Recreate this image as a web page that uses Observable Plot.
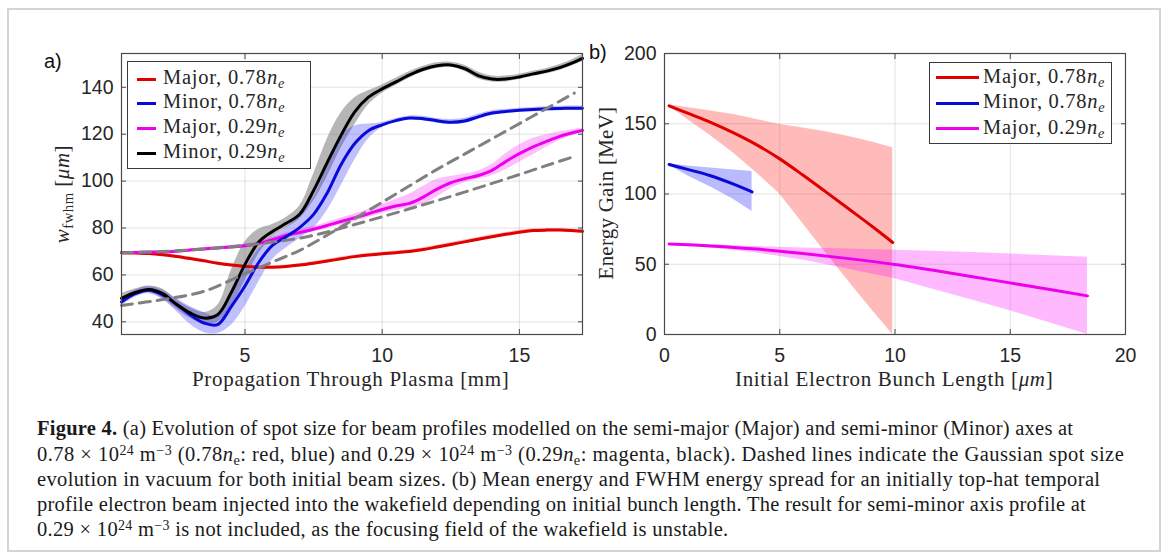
<!DOCTYPE html>
<html>
<head>
<meta charset="utf-8">
<script src="https://cdn.jsdelivr.net/npm/d3@7"></script>
<script src="https://cdn.jsdelivr.net/npm/@observablehq/plot@0.6"></script>
<style>
html,body{margin:0;padding:0;background:#fff;}
#page{position:relative;width:1170px;height:558px;overflow:hidden;background:#fff;}
#border{position:absolute;left:7px;top:8px;width:1154px;height:544px;border:2px solid #d4d4d4;box-sizing:border-box;}
.abs{position:absolute;white-space:nowrap;line-height:1.15;}
.serif{font-family:"Liberation Serif","Times New Roman",serif;font-size:21px;color:#262626;}
.leg{font-family:"Liberation Serif","Times New Roman",serif;font-size:20.5px;color:#262626;}
.panel{font-family:"Liberation Sans",Arial,sans-serif;font-size:20px;color:#111;}
.cap{font-family:"Liberation Serif","Times New Roman",serif;font-size:20.5px;color:#1a1a1a;}
.legend{position:absolute;background:#fff;border:1.3px solid #3a3a3a;box-sizing:border-box;}
.swatch{position:absolute;height:3px;margin-top:-1.5px;}
sub{font-size:70%;vertical-align:-0.25em;line-height:0;}
sup{font-size:68%;vertical-align:0.45em;line-height:0;}
svg{position:absolute;top:0;}
</style>
</head>
<body>
<div id="page"><div id="border"></div></div>
<script>
// ---------- Panel (a): spot size vs propagation ----------
const xA = [0.5,1,1.5,2,2.5,3,3.5,4,4.5,5,5.5,6,6.5,7,7.5,8,8.5,9,9.5,10,10.5,11,11.5,12,12.5,13,13.5,14,14.5,15,15.5,16,16.5,17,17.3];

const redMean = [69.5,69.3,69.1,68.6,67.9,67,66,65,64.2,63.6,63.3,63.3,63.6,64.2,65,65.9,66.9,67.8,68.5,69,69.5,70,70.8,71.9,73,74.1,75.2,76.3,77.3,78.2,78.9,79.1,79.1,78.8,78.6];
const redLo   = [69,68.8,68.6,68,67.3,66.4,65.4,64.4,63.6,63,62.7,62.7,63,63.5,64.3,65.2,66.2,67.1,67.8,68.3,68.8,69.3,70,71.1,72.2,73.3,74.4,75.5,76.5,77.4,78.1,78.4,78.4,78.1,77.9];
const redHi   = [70,69.8,69.6,69.2,68.5,67.6,66.6,65.6,64.8,64.2,63.9,63.9,64.2,64.9,65.7,66.6,67.6,68.5,69.2,69.7,70.2,70.7,71.6,72.7,73.8,74.9,76,77.1,78.1,79,79.7,79.8,79.8,79.5,79.3];

const blueMean = [48.5,52,53.5,51.5,47.5,43,39.5,38.8,46.5,55.3,65.3,72.6,76.3,80.3,85.8,95,107,116,121.5,124,125.8,126.9,126.6,125.7,125.1,125.6,127.4,129,129.7,130.2,130.5,130.8,131,131.1,131.1];
const blueLo   = [46.8,50.5,52,49.5,44.5,39,35.5,35,38.5,46.5,57,66.5,71.5,75.5,80,87.5,98,109,118,122.8,125,126,125.6,124.7,124.1,124.6,126.3,128,128.8,129.3,129.6,129.9,130.1,130.2,130.2];
const blueHi   = [50,53.5,55,53.5,50,46.5,44,42.5,52,62,71,76,80,85.5,93,106,119,123.5,124.3,125,126.7,127.8,127.6,126.7,126.3,126.8,128.5,130,130.6,131.1,131.4,131.7,131.9,132,132];

const magMean = [69.5,69.6,69.7,69.8,70.1,70.6,71.1,71.5,71.9,72.4,73.4,75,76.8,78.1,79.5,81.1,82.8,84.4,86.1,87.9,89.4,90.5,93.2,96.6,99.3,101,102.4,104.6,108.3,111.7,114.6,117,119.2,120.8,121.6];
const magLo   = [69,69.1,69.2,69.3,69.6,70,70.5,70.9,71.2,71.6,72.5,74,75.8,77.3,78.5,79.8,81.2,82.8,84.5,86.2,87.6,88.6,90.2,93.2,96.8,99.3,100.8,102.3,104.8,108,111.2,114.5,117.5,119.8,120.8];
const magHi   = [70,70.1,70.2,70.3,70.6,71.2,71.7,72.1,72.6,73.2,74.3,76,77.9,79.2,80.7,82.4,84.3,86,88,90,92.2,94.5,97.8,100.8,102,103,104.3,107.2,111.7,115.5,118.3,119.8,121,122,122.5];

const blackMean = [50,52.5,53.8,52,47.5,43.8,41.6,43,52.5,64.5,74,78.5,82,86,96,108,119.5,129.5,135.8,139.3,142.3,145.3,147.7,149.2,149.5,148,145,143.5,143.5,144.4,145.7,146.9,148.5,150.7,152.3];
const blackLo   = [48,51,52.5,50,45.5,41.5,39.3,39.8,46.5,57.5,69,76,80,84,91.5,102,114,124,132.5,137.5,140.8,144,146.5,148,148.5,146.8,143.5,142.3,142.3,143.3,144.6,145.8,147.3,149.5,151];
const blackHi   = [52,54,55.3,54,49.5,46,44,47,62,74,79.5,81.5,84.5,89.5,103,118,129,135.5,138.5,141,143.8,146.7,149,150.5,150.7,149.4,146.5,144.8,144.8,145.6,146.8,148,149.8,152.2,154];

// Gaussian vacuum evolution (dashed)
const xDash = [0.5,2,3.5,5,6,7,8,9,10,11,12,13,14,15,16,17];
const dashMinor = [47,49.5,53,60.5,65.5,70.5,77,84,91,98,105,111.5,118,124.5,131,137.5];
const dashMajor = [69.5,70,71,72.6,74,75.7,78.3,81.5,84.8,88.2,91.7,95.3,99,102.8,106.7,110.5];

const xTicksA = [5,10,15];
const yTicksA = [40,60,80,100,120,140];

// ---------- Panel (b): energy gain vs bunch length ----------
const xRed = [0.2,1,2,3,4,5,6,7,8,9,9.9];
const egRedMean = [162.8,157.5,151,143.5,135,125,113.5,101.5,89.3,77,65.5];
const egRedHi   = [163.6,161.5,159,156.5,153,149.5,147,144.3,141,137,133];
const egRedLo   = [162.5,153,141.5,129,115,100,79,58,37.5,17.5,0];

const xBlue = [0.2,1,2,3,3.8];
const egBlueMean = [121,117.5,113,107,101.5];
const egBlueHi   = [121.5,120,118.5,117,116];
const egBlueLo   = [120.5,113,105,96,87.5];

const xMag = [0.2,2,4,6,8,10,12,14,16,18.35];
const egMagMean = [64.5,63,60.8,57.6,54,49.8,44.8,39.4,34,27.5];
const egMagHi   = [64.8,63.8,62.6,61.6,60.8,60,59,58,56.6,55];
const egMagLo   = [64.2,61.5,58,53,46.5,39.7,30.6,21.5,12,0];

const xTicksB = [0,5,10,15,20];
const yTicksB = [0,50,100,150,200];

const seriesNames = ["Major, 0.78", "Minor, 0.78", "Major, 0.29", "Minor, 0.29"];
const C = {red:"#e00000", blue:"#0a0ad8", mag:"#ee00ee", black:"#000000", dash:"#808080"};

const tbl = (xs, m, lo, hi) => xs.map((x, i) => ({x, y: m[i], lo: lo ? lo[i] : null, hi: hi ? hi[i] : null}));

const A = {
  red: tbl(xA, redMean, redLo, redHi),
  blue: tbl(xA, blueMean, blueLo, blueHi),
  mag: tbl(xA, magMean, magLo, magHi),
  black: tbl(xA, blackMean, blackLo, blackHi),
  dMinor: tbl(xDash, dashMinor),
  dMajor: tbl(xDash, dashMajor)
};
const B = {
  red: tbl(xRed, egRedMean, egRedLo, egRedHi),
  blue: tbl(xBlue, egBlueMean, egBlueLo, egBlueHi),
  mag: tbl(xMag, egMagMean, egMagLo, egMagHi)
};

const styleCommon = {fontFamily: '"Liberation Sans", Arial, sans-serif', fontSize: "19.5px", color: "#262626", background: "transparent", overflow: "visible"};
const axes = (xt, yt) => [
  Plot.frame({stroke: "#4a4a4a", strokeWidth: 1.2}),
  Plot.axisX(xt, {anchor: "bottom", tickSize: -5, tickPadding: 19, label: null, stroke: "#4a4a4a"}),
  Plot.axisX(xt, {anchor: "top", tickSize: -5, tickFormat: () => "", label: null, stroke: "#4a4a4a"}),
  Plot.axisY(yt, {anchor: "left", tickSize: -5, tickPadding: 13, label: null, stroke: "#4a4a4a"}),
  Plot.axisY(yt, {anchor: "right", tickSize: -5, tickFormat: () => "", label: null, stroke: "#4a4a4a"})
];
const grids = (xt, yt) => [
  Plot.gridX(xt, {stroke: "#000", strokeOpacity: 0.11, strokeWidth: 1}),
  Plot.gridY(yt, {stroke: "#000", strokeOpacity: 0.11, strokeWidth: 1})
];
const band = (d, fill, op, curve) => Plot.areaY(d, {x: "x", y1: "lo", y2: "hi", fill, fillOpacity: op, curve});
const ln = (d, stroke, curve, extra = {}) => Plot.line(d, {x: "x", y: "y", stroke, strokeWidth: 3, curve, ...extra});

const leftPlot = Plot.plot({
  width: 590, height: 400,
  marginLeft: 121, marginRight: 8, marginTop: 53, marginBottom: 66,
  x: {domain: [0.5, 17.3]},
  y: {domain: [34.6, 154.4]},
  style: styleCommon,
  marks: [
    ...grids(xTicksA, yTicksA),
    band(A.black, "#6e6e6e", 0.5, "catmull-rom"),
    band(A.blue, "#3030ff", 0.3, "catmull-rom"),
    band(A.mag, "#ff00ff", 0.25, "catmull-rom"),
    band(A.red, "#ff0000", 0.25, "catmull-rom"),
    ln(A.red, C.red, "catmull-rom"),
    ln(A.mag, C.mag, "catmull-rom"),
    ln(A.blue, C.blue, "catmull-rom"),
    ln(A.black, C.black, "catmull-rom"),
    ln(A.dMinor, C.dash, "catmull-rom", {strokeDasharray: "11,7"}),
    ln(A.dMajor, C.dash, "catmull-rom", {strokeDasharray: "11,7"}),
    ...axes(xTicksA, yTicksA)
  ]
});
leftPlot.style.left = "0px";

const rightPlot = Plot.plot({
  width: 580, height: 400,
  marginLeft: 74, marginRight: 45, marginTop: 53, marginBottom: 66,
  x: {domain: [0, 20]},
  y: {domain: [0, 200]},
  style: styleCommon,
  marks: [
    ...grids(xTicksB, yTicksB),
    band(B.red, "#ff0000", 0.27, "linear"),
    band(B.blue, "#0000ff", 0.27, "linear"),
    band(B.mag, "#ff00ff", 0.27, "linear"),
    ln(B.red, C.red, "catmull-rom"),
    ln(B.blue, C.blue, "catmull-rom"),
    ln(B.mag, C.mag, "catmull-rom"),
    ...axes(xTicksB, yTicksB)
  ]
});
rightPlot.style.left = "590px";

const page = document.getElementById("page");
page.appendChild(leftPlot);
page.appendChild(rightPlot);

// ---------- text helpers ----------
function addText(html, cls, o) {
  const el = document.createElement("div");
  el.className = "abs " + cls;
  el.innerHTML = html;
  page.appendChild(el);
  if (o.width) {
    const n = el.textContent.length;
    el.style.letterSpacing = ((o.width - el.offsetWidth) / n) + "px";
  }
  const w = el.offsetWidth, h = el.offsetHeight;
  el.style.top = (o.cy - h / 2) + "px";
  if (o.left != null) el.style.left = o.left + "px";
  else el.style.left = (o.cx - w / 2) + "px";
  if (o.rotate) el.style.transform = "rotate(-90deg)";
  return el;
}

// panel tags
addText("a)", "panel", {cx: 53, cy: 61});
addText("b)", "panel", {cx: 598, cy: 52});

// axis titles
addText("Propagation Through Plasma [mm]", "serif", {cx: 351, cy: 379, width: 318});
addText("Initial Electron Bunch Length [<i>μm</i>]", "serif", {cx: 894, cy: 379, width: 318});
addText("<i>w</i><sub>fwhm</sub> [<i>μm</i>]", "serif", {cx: 62, cy: 194, width: 98, rotate: true});
addText("Energy Gain [MeV]", "serif", {cx: 606, cy: 193, width: 173, rotate: true});

// legends
function legend(box, entries, sw, txLeft, rows) {
  const lg = document.createElement("div");
  lg.className = "legend";
  Object.assign(lg.style, {left: box[0] + "px", top: box[1] + "px", width: box[2] + "px", height: box[3] + "px"});
  page.appendChild(lg);
  entries.forEach((e, i) => {
    const s = document.createElement("div");
    s.className = "swatch";
    Object.assign(s.style, {left: (sw[0] - box[0]) + "px", width: sw[1] + "px", top: (rows[i] - box[1]) + "px", background: e.color});
    lg.appendChild(s);
    addText(e.name + "<i>n<sub>e</sub></i>", "leg", {left: txLeft, cy: rows[i], width: 122});
  });
}
legend([127, 61, 184, 108],
  [{name: seriesNames[0], color: C.red}, {name: seriesNames[1], color: C.blue}, {name: seriesNames[2], color: C.mag}, {name: seriesNames[3], color: C.black}],
  [136, 19], 163, [78.3, 102.3, 127, 152.3]);
legend([929, 62, 183, 82],
  [{name: seriesNames[0], color: C.red}, {name: seriesNames[1], color: C.blue}, {name: seriesNames[2], color: C.mag}],
  [935, 43], 983, [76.7, 102.3, 127.7]);

// caption
const capLines = [
  ["<b>Figure 4.</b> (a) Evolution of spot size for beam profiles modelled on the semi-major (Major) and semi-minor (Minor) axes at", 1036],
  ["0.78 × 10<sup>24</sup> m<sup>−3</sup> (0.78<i>n</i><sub>e</sub>: red, blue) and 0.29 × 10<sup>24</sup> m<sup>−3</sup> (0.29<i>n</i><sub>e</sub>: magenta, black). Dashed lines indicate the Gaussian spot size", 1087],
  ["evolution in vacuum for both initial beam sizes. (b) Mean energy and FWHM energy spread for an initially top-hat temporal", 1063],
  ["profile electron beam injected into the wakefield depending on initial bunch length. The result for semi-minor axis profile at", 1049],
  ["0.29 × 10<sup>24</sup> m<sup>−3</sup> is not included, as the focusing field of the wakefield is unstable.", 691]
];
const capY = [429, 454.5, 480, 505, 530];
capLines.forEach(([t, w], i) => addText(t, "cap", {left: 37, cy: capY[i], width: w}));
</script>
</body>
</html>
